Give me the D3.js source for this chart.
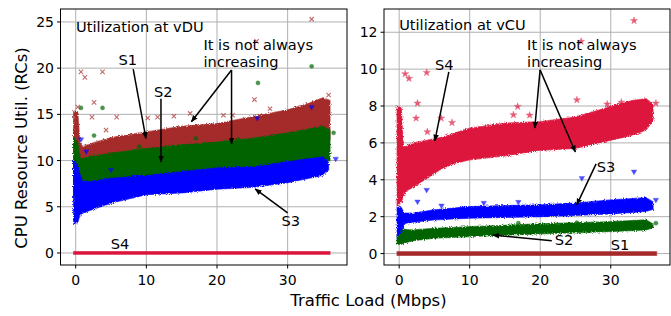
<!DOCTYPE html>
<html><head><meta charset="utf-8">
<script src="https://cdn.jsdelivr.net/npm/d3@7"></script>
<style>body{margin:0;background:#fff}svg{display:block;font-family:"DejaVu Sans",sans-serif}</style>
</head><body><svg id="c" width="671" height="316"></svg>
<script>
// ---------- data ----------
const xTicks = [0, 10, 20, 30];
const duYTicks = [0, 5, 10, 15, 20, 25];
const cuYTicks = [0, 2, 4, 6, 8, 10, 12];
const seriesNames = ["S1", "S2", "S3", "S4"];
const seriesColors = {S1: "#a52a2a", S2: "#006400", S3: "#0000ff", S4: "#dc143c"};

// vDU panel: dense point clouds given as envelopes (traffic load, low, high)
const duS1Load = [-0.3, 0.3, 0.6, 1, 2, 5, 10, 15, 20, 25, 30, 33, 35, 36];
const duS1Low  = [6.5, 7.5, 8.5, 8.6, 8.8, 9.2, 9.6, 10.0, 10.4, 10.8, 11.3, 11.6, 12.0, 12.3];
const duS1High = [15.4, 15.2, 12.0, 11.5, 11.8, 12.5, 13.1, 13.7, 14.0, 14.75, 15.5, 16.2, 16.8, 16.5];
const duS2Load = [-0.3, 0.3, 0.6, 1, 2, 5, 10, 15, 20, 25, 30, 35, 36];
const duS2Low  = [6.0, 6.5, 7.0, 7.0, 7.2, 7.5, 7.9, 8.2, 8.6, 8.9, 9.3, 9.8, 10.0];
const duS2High = [12.5, 12.0, 10.3, 10.2, 10.4, 10.8, 11.3, 11.7, 12.0, 12.4, 13.0, 13.7, 13.3];
const duS3Load = [-0.3, 0.3, 0.6, 1, 2, 5, 10, 15, 20, 25, 30, 35, 35.8];
const duS3Low  = [3.2, 3.3, 4.1, 4.3, 4.6, 5.4, 6.3, 6.5, 6.9, 7.1, 7.6, 8.4, 9.0];
const duS3High = [10.0, 9.5, 8.5, 7.8, 7.7, 8.1, 8.4, 8.8, 9.2, 9.3, 9.9, 10.4, 9.8];
const duS4Load = [-0.3, 36];
const duS4Low  = [-0.15, -0.15];
const duS4High = [0.15, 0.15];

// vCU panel
const cuS4Load = [-0.3, 0.3, 0.6, 1, 2, 4, 6, 8, 10, 15, 20, 25, 30, 33, 35, 36];
const cuS4Low  = [2.6, 2.8, 3.1, 3.4, 3.6, 4.1, 4.6, 4.9, 5.08, 5.3, 5.6, 5.7, 6.15, 6.4, 6.7, 7.2];
const cuS4High = [8.0, 7.9, 5.8, 5.8, 6.0, 6.15, 6.3, 6.55, 6.8, 7.07, 7.15, 7.4, 7.97, 8.3, 8.4, 8.1];
const cuS3Load = [-0.3, 0.3, 0.7, 1, 2, 5, 10, 15, 20, 25, 30, 35, 36];
const cuS3Low  = [0.9, 1.2, 1.6, 1.65, 1.7, 1.83, 1.92, 1.96, 2.0, 2.07, 2.15, 2.28, 2.4];
const cuS3High = [2.5, 2.5, 2.2, 2.2, 2.2, 2.37, 2.55, 2.6, 2.64, 2.74, 2.91, 3.03, 2.8];
const cuS2Load = [-0.3, 0.3, 0.5, 1, 2, 5, 10, 20, 30, 35, 36];
const cuS2Low  = [0.5, 0.5, 0.55, 0.6, 0.7, 0.83, 0.92, 1.07, 1.19, 1.28, 1.4];
const cuS2High = [1.0, 1.2, 1.35, 1.3, 1.28, 1.37, 1.46, 1.61, 1.73, 1.83, 1.6];
const cuS1Load = [-0.3, 36.5];
const cuS1Low  = [-0.1, -0.1];
const cuS1High = [0.1, 0.1];

// isolated points [traffic load, utilization]
const duS1Out = [[0.75,19.6],[1.3,19.0],[3.8,19.6],[2.6,16.3],[2.3,14.7],[4.3,13.3],[5.8,14.7],[10.2,14.6],[11.6,14.7],[13.9,14.8],[16.2,15.1],[20.9,14.9],[22.2,14.9],[25.6,22.9],[25.3,16.6],[33.4,25.3],[30.4,15.1],[0.3,15.8],[27.5,15.6],[35.8,17.1]];
const duS2Out = [[0.75,15.7],[3.8,15.7],[25.8,18.4],[33.4,20.2],[2.6,12.7],[36.5,13.0],[17,12.4],[23,12.3],[9,11.5]];
const duS3Out = [[0.75,12.3],[33.4,15.8],[25.7,14.6],[36.8,10.2],[1.5,11.0],[5,9.0]];
const cuS4Out = [[0.85,9.74],[1.4,9.49],[3.9,9.81],[2.6,8.15],[2.4,7.34],[5.95,7.34],[25.8,11.5],[33.3,12.63],[25.2,8.33],[16.8,7.97],[16.2,7.52],[36.4,8.15],[4.0,6.6],[7.5,7.1],[18.5,7.5],[29.5,8.1],[31.5,8.2]];
const cuS3Out = [[3.9,3.45],[2.6,2.82],[25.9,4.09],[33.3,4.44],[36.4,2.91],[16.9,2.8],[6,2.6],[12,2.75]];
const cuS2Out = [[36.4,1.65],[16.9,1.65],[25.2,1.68]];

// annotations: text, anchor position in data units
const duNotes = [
  {t:"Utilization at vDU", x:0.05, y:23.9, a:"start"},
  {t:"S1", x:7.36, y:20.35, a:"middle"},
  {t:"S2", x:12.4, y:16.9, a:"middle"},
  {t:"It is not always", x:18.08, y:22.0, a:"start"},
  {t:"increasing", x:18.08, y:20.1, a:"start"},
  {t:"S3", x:30.44, y:2.92, a:"middle"},
  {t:"S4", x:6.29, y:0.43, a:"middle"}
];
const duArrows = [[8.14,19.9,9.94,12.4],[12.07,16.7,12.07,9.85],[22.06,19.8,16.38,14.2],[22.06,19.8,22.06,11.8],[30.0,4.33,25.4,6.93]];
const cuNotes = [
  {t:"Utilization at vCU", x:0.0, y:12.12, a:"start"},
  {t:"S4", x:6.38, y:9.96, a:"middle"},
  {t:"It is not always", x:18.14, y:11.02, a:"start"},
  {t:"increasing", x:18.14, y:10.1, a:"start"},
  {t:"S3", x:29.33, y:4.43, a:"middle"},
  {t:"S2", x:23.38, y:0.47, a:"middle"},
  {t:"S1", x:31.32, y:0.2, a:"middle"}
];
const cuArrows = [[7.04,9.85,5.06,6.11],[19.98,9.96,19.23,6.81],[19.98,9.96,24.98,5.51],[27.92,4.86,25.18,2.64],[21.64,0.69,13.28,1.0]];

// ---------- drawing ----------
const svg = d3.select("#c");
const defs = svg.append("defs");
const filt = defs.append("filter").attr("id","rough").attr("x","-5%").attr("y","-20%").attr("width","110%").attr("height","140%");
filt.append("feTurbulence").attr("type","fractalNoise").attr("baseFrequency","0.9").attr("numOctaves",1).attr("seed",3).attr("result","n");
filt.append("feDisplacementMap").attr("in","SourceGraphic").attr("in2","n").attr("scale",4).attr("xChannelSelector","R").attr("yChannelSelector","G");
defs.append("marker").attr("id","ah").attr("viewBox","0 0 10 10").attr("refX",9).attr("refY",5)
  .attr("markerWidth",7).attr("markerHeight",7).attr("markerUnits","userSpaceOnUse").attr("orient","auto")
  .append("path").attr("d","M0,1 L10,5 L0,9 z").attr("fill","#000");

function zip(xs, lo, hi){ return xs.map((x,i)=>({x, lo:lo[i], hi:hi[i]})); }

function panel(opt){
  const x = d3.scaleLinear().domain([-2.15, 38.4]).range([opt.x0, opt.x1]);
  const y = d3.scaleLinear().domain(opt.yDom).range([265, 9]);
  const g = svg.append("g");
  const cid = "clip" + opt.id;
  defs.append("clipPath").attr("id",cid).append("rect")
    .attr("x",opt.x0).attr("y",9).attr("width",opt.x1-opt.x0).attr("height",256);
  // grid
  g.append("g").selectAll("line").data(xTicks).join("line")
    .attr("x1",d=>x(d)).attr("x2",d=>x(d)).attr("y1",9).attr("y2",265)
    .attr("stroke","#b0b0b0").attr("stroke-width",1);
  g.append("g").selectAll("line").data(opt.yTicks).join("line")
    .attr("y1",d=>y(d)).attr("y2",d=>y(d)).attr("x1",opt.x0).attr("x2",opt.x1)
    .attr("stroke","#b0b0b0").attr("stroke-width",1);
  const pg = g.append("g").attr("clip-path",`url(#${cid})`);
  const area = d3.area().x(d=>x(d.x)).y0(d=>y(d.lo)).y1(d=>y(d.hi)).curve(d3.curveLinear);
  const sym = {
    S1: d3.symbol().type(d3.symbolTimes || d3.symbolCross).size(14),
    S2: d3.symbol().type(d3.symbolCircle).size(14),
    S3: d3.symbol().type(d3.symbolTriangle).size(13),
    S4: d3.symbol().type(d3.symbolStar).size(16)
  };
  opt.bands.forEach(b=>{
    const col = seriesColors[b.s];
    pg.append("path").datum(zip(b.load,b.lo,b.hi)).attr("d",area)
      .attr("fill",col).attr("stroke",col).attr("stroke-width",1.2).attr("stroke-opacity",0.6)
      .attr("filter", b.flat ? null : "url(#rough)");
    if (b.out) {
      pg.append("g").selectAll("path").data(b.out).join("path")
        .attr("transform",d=>`translate(${x(d[0])},${y(d[1])})${b.s==="S3"?" rotate(180)":""}`)
        .attr("d",sym[b.s])
        .attr("fill", b.s==="S1" ? "none" : col)
        .attr("stroke", col).attr("stroke-width", b.s==="S1"?1.1:0.4)
        .attr("opacity",0.7);
    }
  });
  // frame
  g.append("rect").attr("x",opt.x0).attr("y",9).attr("width",opt.x1-opt.x0).attr("height",256)
    .attr("fill","none").attr("stroke","#000").attr("stroke-width",1);
  // ticks
  const ax = g.append("g").attr("font-size",14).attr("fill","#000");
  xTicks.forEach(t=>{
    ax.append("line").attr("x1",x(t)).attr("x2",x(t)).attr("y1",265).attr("y2",268.5).attr("stroke","#000");
    ax.append("text").attr("x",x(t)).attr("y",285).attr("text-anchor","middle").text(t);
  });
  opt.yTicks.forEach(t=>{
    ax.append("line").attr("x1",opt.x0-3.5).attr("x2",opt.x0).attr("y1",y(t)).attr("y2",y(t)).attr("stroke","#000");
    ax.append("text").attr("x",opt.x0-6.5).attr("y",y(t)).attr("dy","0.36em").attr("text-anchor","end").text(t);
  });
  // annotations
  const an = g.append("g");
  opt.arrows.forEach(a=>{
    an.append("line").attr("x1",x(a[0])).attr("y1",y(a[1])).attr("x2",x(a[2])).attr("y2",y(a[3]))
      .attr("stroke","#000").attr("stroke-width",1.5).attr("marker-end","url(#ah)");
  });
  an.selectAll("text").data(opt.notes).join("text")
    .attr("x",d=>x(d.x)).attr("y",d=>y(d.y)).attr("text-anchor",d=>d.a)
    .attr("font-size",14.6).attr("fill","#000").text(d=>d.t);
}

panel({id:"du", x0:60.5, x1:347, yDom:[-1.3, 26.4], yTicks:duYTicks, notes:duNotes, arrows:duArrows,
  bands:[
    {s:"S1", load:duS1Load, lo:duS1Low, hi:duS1High, out:duS1Out},
    {s:"S2", load:duS2Load, lo:duS2Low, hi:duS2High, out:duS2Out},
    {s:"S3", load:duS3Load, lo:duS3Low, hi:duS3High, out:duS3Out},
    {s:"S4", load:duS4Load, lo:duS4Low, hi:duS4High, flat:true}
  ]});
panel({id:"cu", x0:384, x1:670, yDom:[-0.62, 13.26], yTicks:cuYTicks, notes:cuNotes, arrows:cuArrows,
  bands:[
    {s:"S1", load:cuS1Load, lo:cuS1Low, hi:cuS1High, flat:true},
    {s:"S2", load:cuS2Load, lo:cuS2Low, hi:cuS2High, out:cuS2Out},
    {s:"S3", load:cuS3Load, lo:cuS3Low, hi:cuS3High, out:cuS3Out},
    {s:"S4", load:cuS4Load, lo:cuS4Low, hi:cuS4High, out:cuS4Out}
  ]});

// axis titles
svg.append("text").attr("x",368.5).attr("y",306).attr("text-anchor","middle").attr("font-size",16.5).text("Traffic Load (Mbps)");
svg.append("text").attr("transform","translate(27,148) rotate(-90)").attr("text-anchor","middle").attr("font-size",16.5).text("CPU Resource Util. (RCs)");
</script></body></html>
